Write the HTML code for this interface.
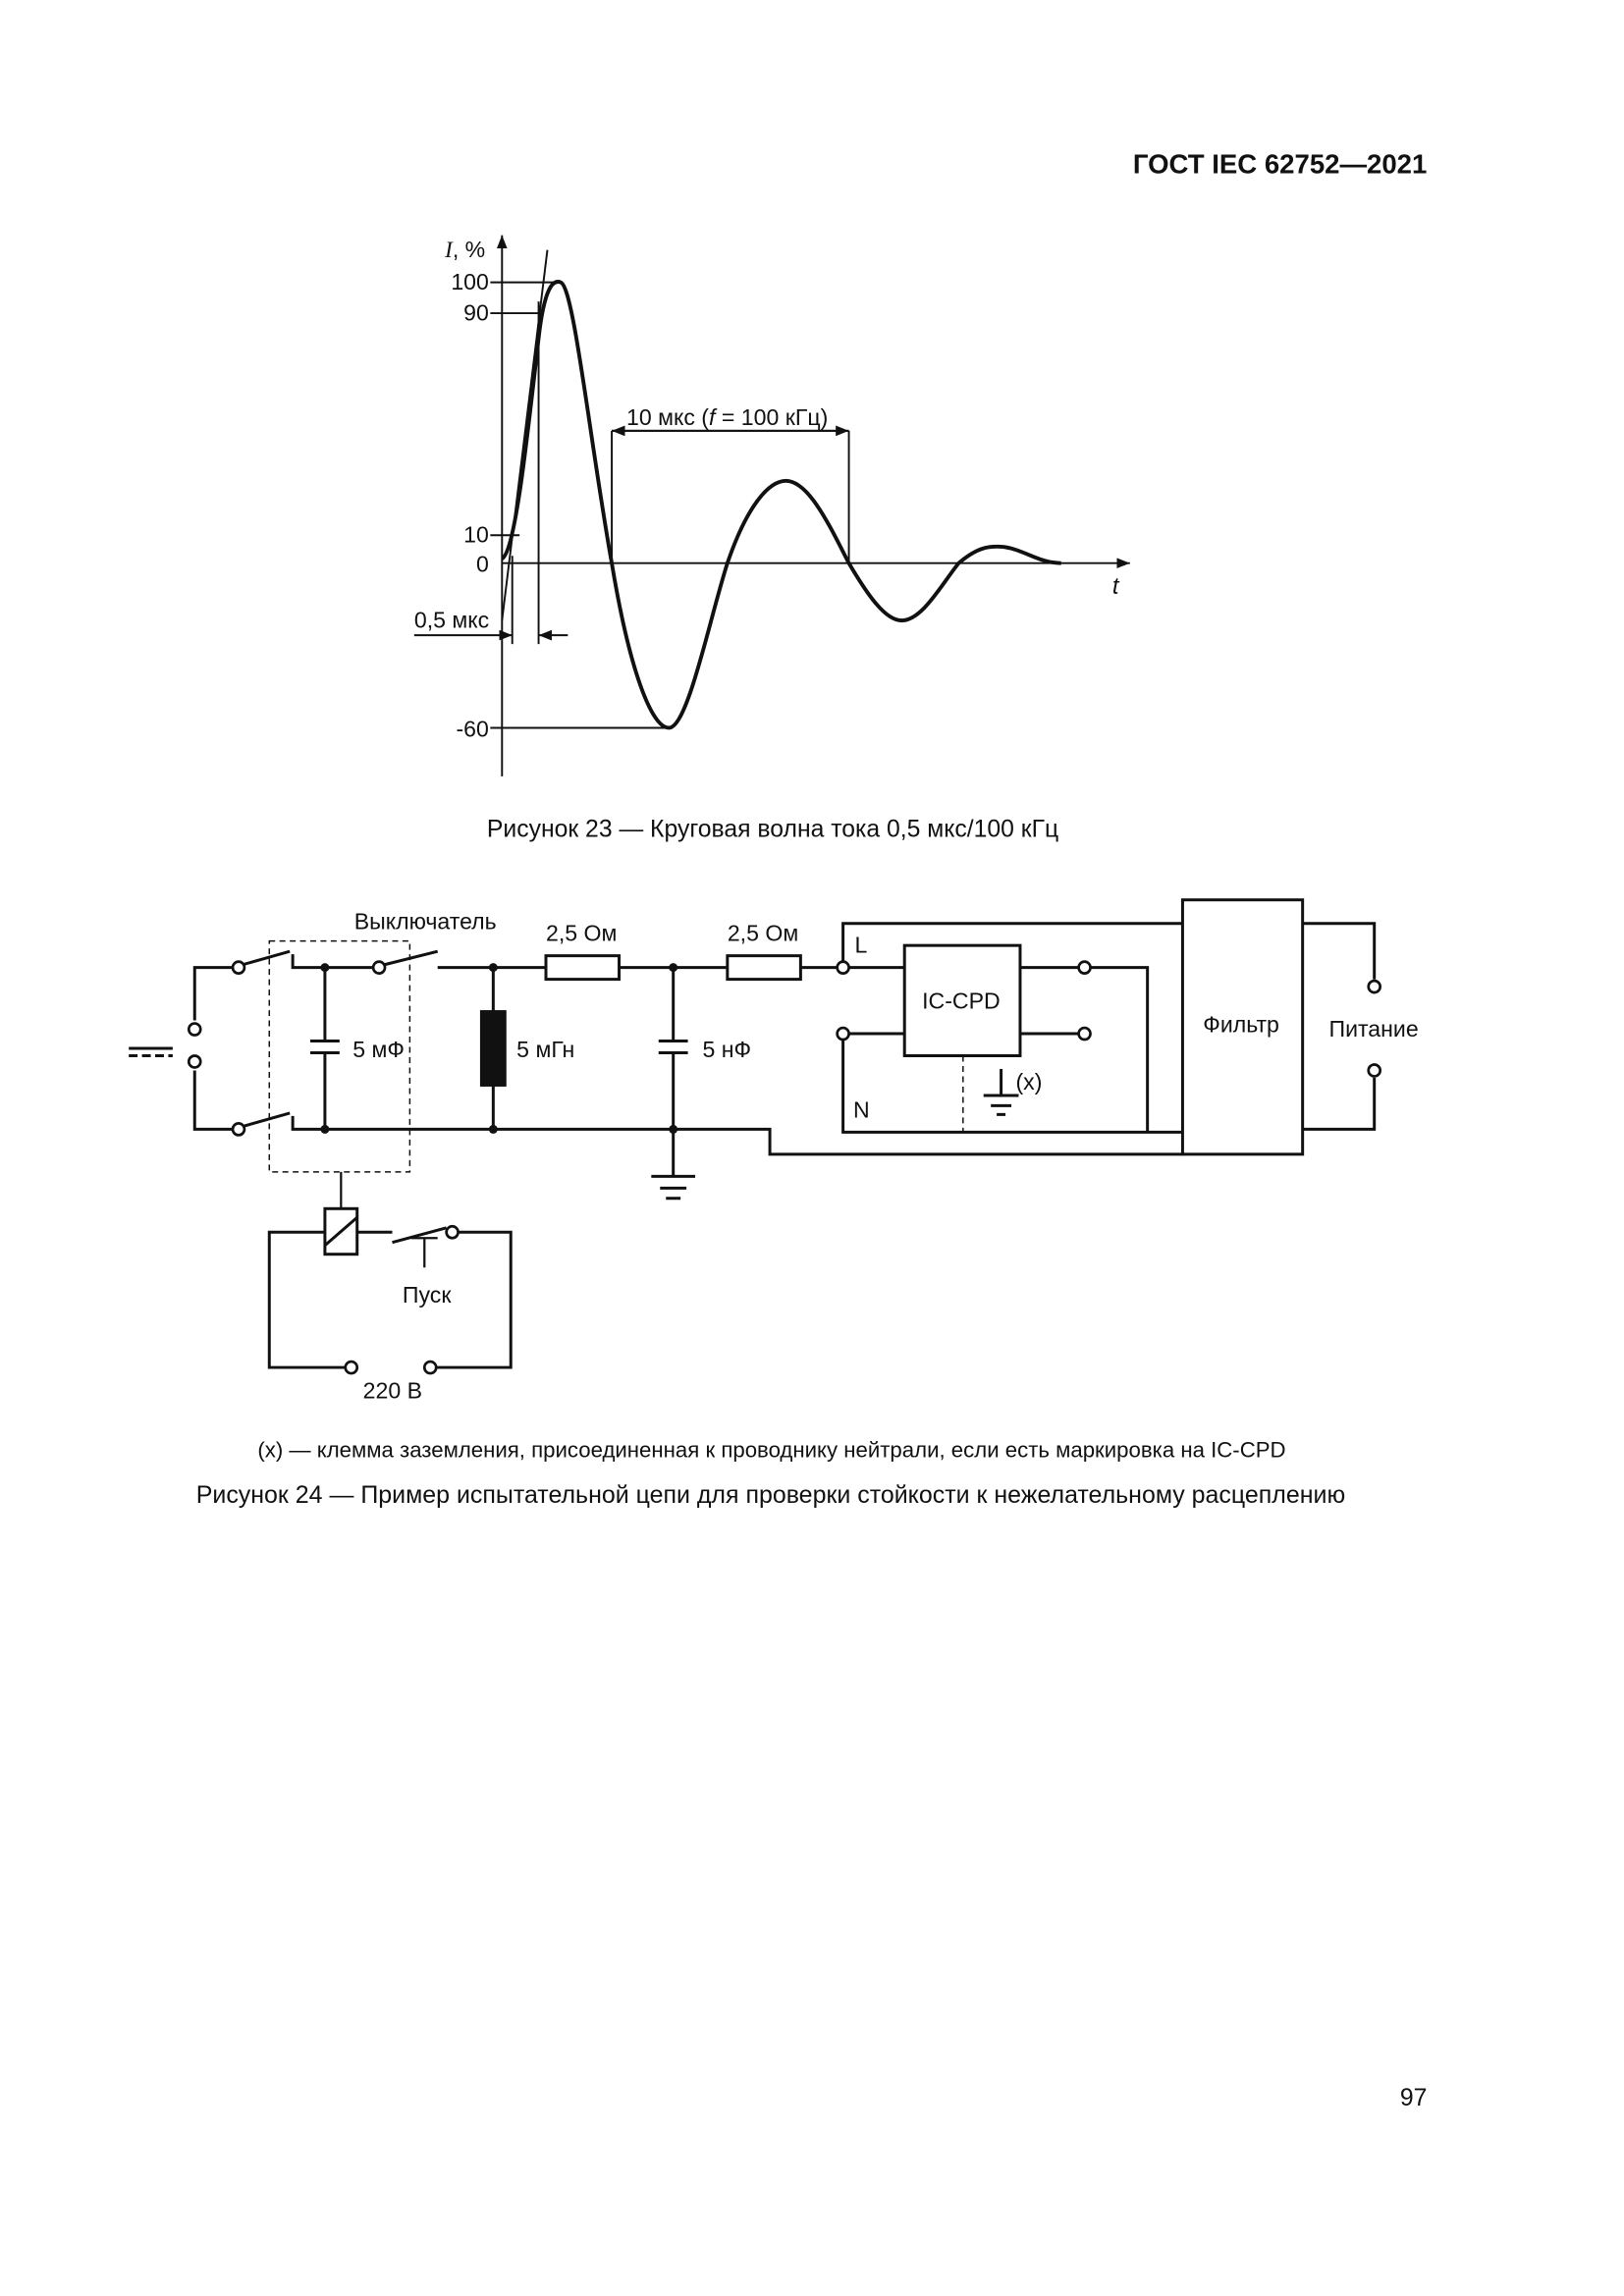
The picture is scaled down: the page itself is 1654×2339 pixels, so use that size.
<!DOCTYPE html>
<html><head><meta charset="utf-8"><style>
html,body{margin:0;padding:0;background:#fff}
svg{display:block}
text{font-family:"Liberation Sans","Noto Sans CJK SC",sans-serif;fill:#111}
</style></head><body>
<svg width="1654" height="2339" viewBox="0 0 1109.6 1561.5" preserveAspectRatio="none" xmlns="http://www.w3.org/2000/svg">
<defs><marker id="a" viewBox="0 0 10 10" refX="10" refY="5" markerWidth="9" markerHeight="9" markerUnits="userSpaceOnUse" orient="auto"><path d="M0,1 L10,5 L0,9 z" fill="#111"/></marker></defs>
<text x="975" y="118" font-size="18.5" font-weight="bold" text-anchor="end">ГОСТ IEC 62752—2021</text>
<g stroke="#111" stroke-width="1.3" fill="none">
<line x1="343" y1="528" x2="343" y2="160" marker-end="url(#a)"/>
<line x1="343" y1="383" x2="772" y2="383" marker-end="url(#a)"/>
<line x1="335" y1="192" x2="382" y2="192"/>
<line x1="335" y1="213" x2="368" y2="213"/>
<line x1="335" y1="364" x2="355" y2="364"/>
<line x1="335" y1="495" x2="457" y2="495"/>
<line x1="343" y1="422" x2="374" y2="170"/>
<line x1="350" y1="378" x2="350" y2="438"/>
<line x1="368" y1="205" x2="368" y2="438"/>
<line x1="283" y1="432" x2="350" y2="432" marker-end="url(#a)"/>
<line x1="388" y1="432" x2="368" y2="432" marker-end="url(#a)"/>
<line x1="418" y1="293" x2="418" y2="383"/>
<line x1="580" y1="293" x2="580" y2="383"/>
<line x1="418" y1="293" x2="580" y2="293" marker-end="url(#a)"/>
<line x1="580" y1="293" x2="418" y2="293" marker-end="url(#a)"/>
<path stroke-width="2.6" d="M343,380 C352,375 360,300 368,230 C372,195 378,190 383,192 C392,194 403,300 418,383 C430,455 445,495 457,495 C470,495 485,420 497,383 C510,345 525,327 537,327 C553,327 568,360 580,383 C593,405 605,422 616,422 C630,422 643,398 655,383 C668,372 676,371 686,372 C700,374 710,383 725,383"/>
</g>
<text x="304" y="175" font-size="15.5"><tspan font-family="Liberation Serif" font-style="italic">I</tspan>, %</text>
<text x="334" y="197" font-size="15.5" text-anchor="end">100</text>
<text x="334" y="218" font-size="15.5" text-anchor="end">90</text>
<text x="334" y="369" font-size="15.5" text-anchor="end">10</text>
<text x="334" y="389" font-size="15.5" text-anchor="end">0</text>
<text x="334" y="501" font-size="15.5" text-anchor="end">-60</text>
<text x="283" y="427" font-size="15.5">0,5 мкс</text>
<text x="428" y="289" font-size="15.5">10 мкс (<tspan font-style="italic">f</tspan> = 100 кГц)</text>
<text x="760" y="404" font-size="16" font-style="italic" font-family="Liberation Serif">t</text>
<text x="528" y="569" font-size="16.6" text-anchor="middle">Рисунок 23 — Круговая волна тока 0,5 мкс/100 кГц</text>

<g stroke="#111" stroke-width="2" fill="none">
<line x1="88" y1="713" x2="118" y2="713"/>
<line x1="88" y1="718" x2="118" y2="718" stroke-dasharray="6,3"/>
<path d="M133,694 V658 H159"/><path d="M133,728 V768 H159"/>
<line x1="166" y1="656" x2="198" y2="647"/><path d="M200,649 V658 H255"/>
<line x1="166" y1="766" x2="198" y2="757"/><path d="M200,759 V768 H526 V785 H808"/>
<line x1="263" y1="656" x2="299" y2="647"/>
<path d="M299,658 H373 M423,658 H497 M547,658 H572"/>
<rect x="373" y="650" width="50" height="16"/><rect x="497" y="650" width="50" height="16"/>
<path d="M222,658 V708 M212,708 H232 M212,716 H232 M222,716 V768"/>
<path d="M337,658 V688 M337,738 V768"/>
<rect x="329" y="688" width="16" height="50" fill="#111"/>
<path d="M460,658 V708 M450,708 H470 M450,716 H470 M460,716 V800 M445,800 H475 M451,808 H469 M455,815 H465"/>
<rect x="184" y="640" width="96" height="157" stroke-width="1" stroke-dasharray="4,3"/>
<line x1="233" y1="797" x2="233" y2="822" stroke-width="1.5"/>
<rect x="222" y="822" width="22" height="31"/><line x1="222" y1="847" x2="244" y2="828"/>
<path d="M222,838 H184 V930 H236 M244,838 H268 M313,838 H349 V930 H298"/>
<line x1="268" y1="845" x2="305" y2="835"/>
<path d="M290,842 V862 M281,842 H299" stroke-width="1.5"/>
<path d="M576,654 V628 H808 M580,658 H618 M580,703 H618 M576,707 V770 H808"/>
<rect x="618" y="643" width="79" height="75"/>
<path d="M697,658 H737 M697,703 H737 M745,658 H784 V770"/>
<line x1="658" y1="718" x2="658" y2="770" stroke-width="1" stroke-dasharray="4,3"/>
<path d="M684,727 V745 M672,745 H696 M677,752 H691 M681,758 H687"/>
<rect x="808" y="612" width="82" height="173"/>
<path d="M890,628 H939 V666 M890,768 H939 V733"/>
</g>
<g stroke="#111" stroke-width="1.8" fill="#fff">
<circle cx="133" cy="700" r="4"/><circle cx="133" cy="722" r="4"/>
<circle cx="163" cy="658" r="4"/><circle cx="163" cy="768" r="4"/>
<circle cx="259" cy="658" r="4"/><circle cx="576" cy="658" r="4"/><circle cx="576" cy="703" r="4"/>
<circle cx="741" cy="658" r="4"/><circle cx="741" cy="703" r="4"/>
<circle cx="939" cy="671" r="4"/><circle cx="939" cy="728" r="4"/>
<circle cx="309" cy="838" r="4"/><circle cx="240" cy="930" r="4"/><circle cx="294" cy="930" r="4"/>
</g>
<g fill="#111"><circle cx="222" cy="658" r="3"/><circle cx="337" cy="658" r="3"/><circle cx="460" cy="658" r="3"/>
<circle cx="222" cy="768" r="3"/><circle cx="337" cy="768" r="3"/><circle cx="460" cy="768" r="3"/></g>
<g font-size="15.5">
<text x="242" y="632">Выключатель</text>
<text x="373" y="640">2,5 Ом</text><text x="497" y="640">2,5 Ом</text>
<text x="241" y="719">5 мФ</text><text x="353" y="719">5 мГн</text><text x="480" y="719">5 нФ</text>
<text x="584" y="648">L</text><text x="583" y="760">N</text>
<text x="630" y="686">IC-CPD</text><text x="694" y="741">(x)</text>
<text x="822" y="702">Фильтр</text><text x="908" y="705">Питание</text>
<text x="275" y="886">Пуск</text><text x="248" y="951">220 В</text>
</g>
<text x="176" y="991" font-size="14.9">(x) — клемма заземления, присоединенная к проводнику нейтрали, если есть маркировка на IC-CPD</text>
<text x="134" y="1022" font-size="16.75">Рисунок 24 — Пример испытательной цепи для проверки стойкости к нежелательному расцеплению</text>
<text x="975" y="1432" font-size="16.6" text-anchor="end">97</text>
</svg>
</body></html>
